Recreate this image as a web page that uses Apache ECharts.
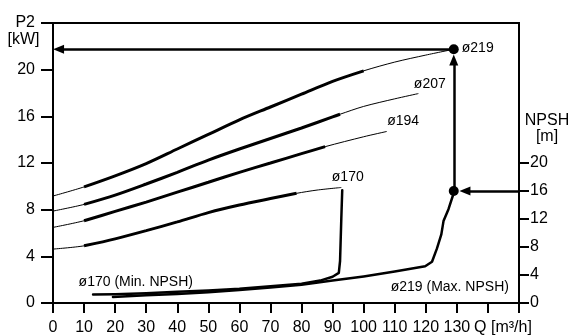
<!DOCTYPE html>
<html><head><meta charset="utf-8">
<script src="https://cdn.jsdelivr.net/npm/echarts@6/dist/echarts.min.js"></script>
<style>html,body{margin:0;padding:0;background:#fff}#c{width:571px;height:336px}</style>
</head><body><div id="c"></div>
<script>
const FONT = '"Liberation Sans", Arial, Helvetica, sans-serif';

// ---- axis ticks ----
const qTicksLabelled = [0,10,20,30,40,50,60,70,80,90,100,110,120,130];
const npshTicks = [0,4,8,12,16,20];

// ---- P2 curves [Q m3/h, P2 kW] ----
const curveNames = ['ø219','ø207','ø194','ø170'];
const p2_219 = [[0,9.17],[10,9.95],[20,10.9],[30,11.95],[40,13.2],[50,14.45],[60,15.7],[70,16.8],[80,17.9],[90,19.0],[100,19.9],[110,20.65],[120,21.25],[129,21.75]];
const p2_207 = [[0,7.88],[10,8.45],[20,9.25],[30,10.2],[40,11.2],[50,12.25],[60,13.2],[70,14.1],[80,15.0],[90,15.95],[92.4,16.18],[100,16.85],[110,17.5],[117.6,17.95]];
const p2_194 = [[0,6.48],[10,7.05],[20,7.85],[30,8.65],[40,9.5],[50,10.35],[60,11.2],[70,12.0],[80,12.8],[87.6,13.4],[100,14.25],[107.4,14.7]];
const p2_170 = [[0,4.62],[10,4.9],[20,5.5],[30,6.2],[40,6.95],[50,7.75],[60,8.4],[70,8.95],[78.4,9.4],[85,9.68],[92.8,9.9]];
// bold (recommended) Q range of each curve
const bold_219 = [10, 100];
const bold_207 = [10, 92.4];
const bold_194 = [10, 87.6];
const bold_170 = [10, 78.4];

// ---- NPSH curves [Q m3/h, NPSH m] ----
const npsh_170min = [[12.9,1.2],[20,1.25],[30,1.4],[40,1.6],[50,1.8],[60,2.05],[70,2.4],[80,2.75],[86,3.2],[90,3.75],[92,4.3],[92.4,6],[92.8,12],[93.1,16.1]];
const npsh_219max = [[19.3,0.86],[30,1.1],[40,1.3],[50,1.55],[60,1.85],[70,2.2],[80,2.6],[90,3.2],[100,3.8],[110,4.5],[119.8,5.25],[122,5.9],[123.6,7.8],[125,9.8],[125.7,11.7],[127.3,13.4],[129.2,16]];

// ---- duty point ----
const dutyQ = 129, dutyP2 = 21.75, dutyNPSH = 16;

const P2_MAX = 24, NPSH_MAX = 40, Q_MAX = 150;

const curves = [p2_219, p2_207, p2_194, p2_170];
const bolds = [bold_219, bold_207, bold_194, bold_170];
const last = a => a[a.length - 1];

const txt = {color:'#000', fontFamily: FONT};
const series = [];
curves.forEach((c, i) => {
  series.push({type:'line', yAxisIndex:0, data:c, smooth:0.3, symbol:'none',
    lineStyle:{color:'#000', width:1}, silent:true, z:2});
  series.push({type:'line', yAxisIndex:0, data:c.filter(p => p[0] >= bolds[i][0] && p[0] <= bolds[i][1]), smooth:0.3, symbol:'none',
    lineStyle:{color:'#000', width:3}, silent:true, z:3});
});
series.push({type:'line', yAxisIndex:1, data:npsh_170min, smooth:false, symbol:'none', lineStyle:{color:'#000', width:2.5, join:'round', cap:'round'}, silent:true, z:3});
series.push({type:'line', yAxisIndex:1, data:npsh_219max, smooth:false, symbol:'none', lineStyle:{color:'#000', width:2.5, join:'round', cap:'round'}, silent:true, z:3});

// curve labels (anchored at curve end points)
const lblOffsets = [null, [-5,-9], [0,-10], [-10,-10]];
const hidden = {color:'transparent', opacity:1};
series.push({type:'scatter', yAxisIndex:0, symbolSize:1, itemStyle:hidden, silent:true, z:6,
  data: [1,2,3].map(i => ({value:last(curves[i]), label:{show:true, formatter:curveNames[i], position:'right', distance:0, offset:lblOffsets[i], fontSize:14, ...txt}}))});
series.push({type:'scatter', yAxisIndex:1, symbolSize:1, itemStyle:hidden, silent:true, z:6,
  data: [
    {value:npsh_170min[0], label:{show:true, formatter:'ø170 (Min. NPSH)', position:'right', distance:0, offset:[-15,-12], fontSize:14, ...txt}},
    {value:npsh_219max[10], label:{show:true, formatter:'ø219 (Max. NPSH)', position:'right', distance:0, offset:[-35,21], fontSize:14, ...txt}}
  ]});

const arrowML = {silent:true, symbol:['none','triangle'], symbolSize:[9,11], animation:false,
  lineStyle:{color:'#000', width:2.5, type:'solid', opacity:1}, itemStyle:{color:'#000', opacity:1}, label:{show:false}, emphasis:{disabled:true}};

// duty point on P2 axis + arrows
series.push({type:'scatter', yAxisIndex:0, symbolSize:10, itemStyle:{color:'#000', opacity:1}, silent:true, z:8,
  data:[{value:[dutyQ, dutyP2], label:{show:true, formatter:'ø219', position:'right', distance:3, fontSize:14, offset:[0,-1], ...txt}}],
  markLine: Object.assign({}, arrowML, {data:[
    [{coord:[dutyQ, dutyP2]}, {coord:[1.8, dutyP2]}],
    [{coord:[dutyQ, dutyNPSH * P2_MAX / NPSH_MAX]}, {coord:[dutyQ, dutyP2 - 0.92]}]
  ]})});
// duty point on NPSH axis + arrow from right axis
series.push({type:'scatter', yAxisIndex:1, symbolSize:10, itemStyle:{color:'#000', opacity:1}, silent:true, z:8,
  data:[[dutyQ, dutyNPSH]],
  markLine: Object.assign({}, arrowML, {data:[
    [{coord:[Q_MAX, dutyNPSH]}, {coord:[dutyQ + 3.6, dutyNPSH]}]
  ]})});

const axisLine = {show:true, lineStyle:{color:'#000', width:2}};
const option = {
  animation:false,
  backgroundColor:'#fff',
  grid:{left:53, right:52, top:23, bottom:33, outerBoundsMode:'none', containLabel:false, show:true, borderColor:'#000', borderWidth:2, backgroundColor:'transparent'},
  xAxis:{type:'value', min:0, max:Q_MAX, interval:10, axisLine,
    axisTick:{show:true, inside:false, length:10, lineStyle:{color:'#000', width:2}},
    splitLine:{show:false},
    axisLabel:{...txt, fontSize:16, margin:17,
      formatter: v => qTicksLabelled.includes(v) ? String(v) : (v === 140 ? '{q|Q [m³/h]}' : ''),
      rich:{q:{...txt, fontSize:16, padding:[0,0,0,30]}}}},
  yAxis:[
    {type:'value', position:'left', min:0, max:P2_MAX, interval:4, axisLine,
      axisTick:{show:true, inside:false, length:12, lineStyle:{color:'#000', width:2}},
      splitLine:{show:false},
      axisLabel:{...txt, fontSize:16, margin:18, formatter: v => v === P2_MAX ? 'P2' : String(v)}},
    {type:'value', position:'right', min:0, max:NPSH_MAX, interval:4, axisLine,
      axisTick:{show:true, inside:false, length:10, customValues:npshTicks, lineStyle:{color:'#000', width:2}},
      splitLine:{show:false},
      axisLabel:{...txt, fontSize:16, margin:11, customValues:npshTicks}}
  ],
  graphic:[
    {type:'text', x:23.5, y:40, silent:true, style:{text:'[kW]', fill:'#000', font:'16px ' + FONT, textAlign:'center', textVerticalAlign:'middle'}},
    {type:'text', x:547, y:121, silent:true, style:{text:'NPSH', fill:'#000', font:'16px ' + FONT, textAlign:'center', textVerticalAlign:'middle'}},
    {type:'text', x:547, y:137, silent:true, style:{text:'[m]', fill:'#000', font:'16px ' + FONT, textAlign:'center', textVerticalAlign:'middle'}}
  ],
  series
};
const chart = echarts.init(document.getElementById('c'), null, {renderer:'canvas'});
chart.setOption(option);
</script></body></html>
